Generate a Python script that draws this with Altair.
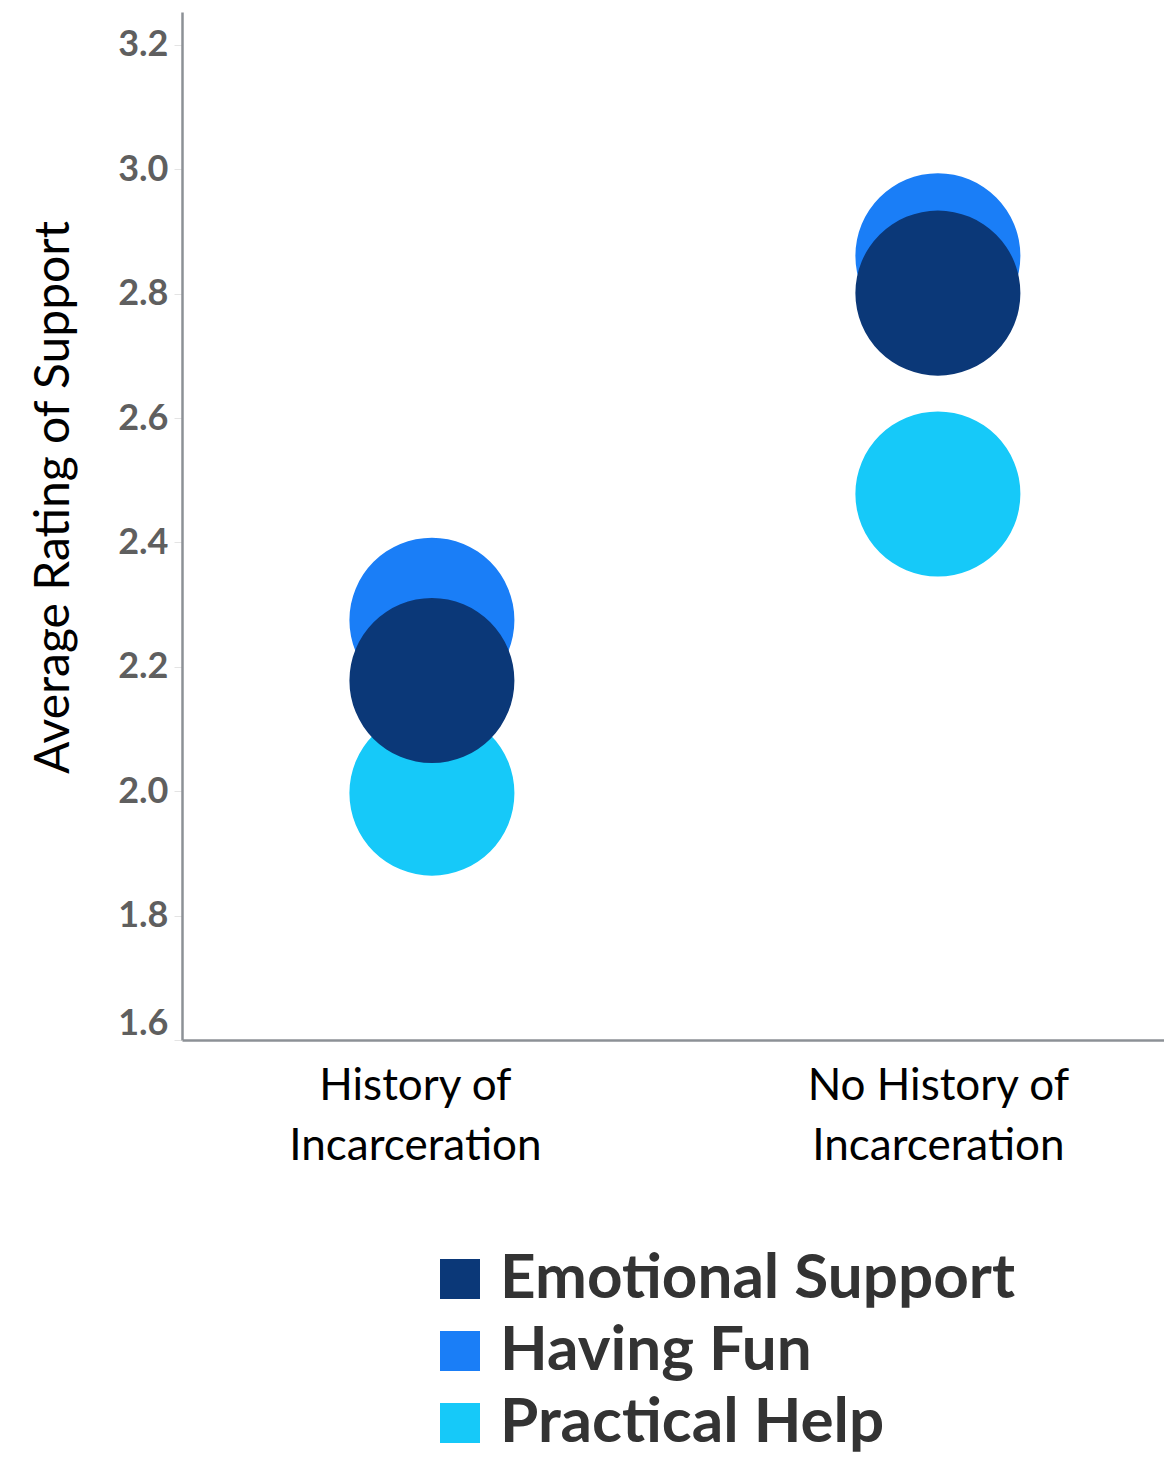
import altair as alt
import pandas as pd

groups = ["History of Incarceration", "No History of Incarceration"]
categories = ["Emotional Support", "Having Fun", "Practical Help"]
history_vals = [2.178, 2.275, 1.997]
no_history_vals = [2.801, 2.861, 2.478]
colors = ["#0b3878", "#1a7ef7", "#16c9f9"]
draw_order = [3, 2, 1]
y_ticks = [1.6, 1.8, 2.0, 2.2, 2.4, 2.6, 2.8, 3.0, 3.2]

rows = []
for g, vals in zip(groups, [history_vals, no_history_vals]):
    for c, v, o in zip(categories, vals, draw_order):
        rows.append({"group": g, "category": c, "value": v, "ord": o})
df = pd.DataFrame(rows)

axis_gray = "#8c9196"

chart = alt.Chart(df).mark_circle(opacity=1, size=27225).encode(
    x=alt.X("group:N", sort=groups,
            scale=alt.Scale(type="point", padding=0.4704, align=0.525),
            axis=alt.Axis(title=None, labelAngle=0, labelFont="Lato", labelFontSize=44,
                          labelColor="black", labelLineHeight=60, labelPadding=24,
                          labelLimit=500,
                          labelOffset={"condition": {"test": "datum.value == 'History of Incarceration'",
                                                     "value": -17}, "value": 0},
                          ticks=False, domainColor=axis_gray, domainWidth=2.5,
                          labelExpr="split(replace(datum.label, ' Incarceration', '|Incarceration'), '|')")),
    y=alt.Y("value:Q",
            scale=alt.Scale(domain=[1.6, 3.253], nice=False, zero=False),
            axis=alt.Axis(values=y_ticks, format=".1f", grid=False,
                          labelFont="Lato", labelFontSize=36, labelFontWeight="bold",
                          labelColor="#5f5f5f", tickSize=8, tickColor="#e4e4e4",
                          labelPadding=6, labelFlush=True, labelFlushOffset=2,
                          domainColor=axis_gray, domainWidth=2.5,
                          title="Average Rating of Support", titleFont="Lato",
                          titleFontSize=48, titleFontWeight="normal", titleColor="black",
                          titleX=-128, titleY=485, titleAlign="center",
                          titleBaseline="middle")),
    color=alt.Color("category:N", sort=categories,
                    scale=alt.Scale(domain=categories, range=colors),
                    legend=alt.Legend(title=None, orient="none", legendX=247, legendY=1236,
                                      symbolType="square", symbolSize=1600,
                                      symbolStrokeWidth=0, symbolOpacity=1,
                                      labelFont="Lato", labelFontSize=62,
                                      labelFontWeight="bold", labelColor="#333333",
                                      labelOffset=9, rowPadding=10, labelLimit=800)),
    order=alt.Order("ord:Q"),
).properties(
    width=982, height=1028,
    autosize=alt.AutoSizeParams(type="none"),
    padding={"left": 174, "top": 4, "right": 0, "bottom": 414},
).configure_view(stroke=None)

chart.save("out.html", embed_options={"renderer": "svg", "actions": False})
